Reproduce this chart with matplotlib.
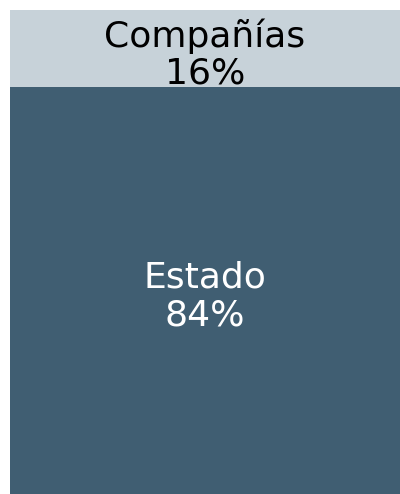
import matplotlib.pyplot as plt

# Datos
categorias = ["Estado", "Compañías"]
valores = [84, 16]
colores = ["#405e72", "#c7d2d9"]
colores_texto = ["white", "black"]

fig = plt.figure(figsize=(4, 4.94), dpi=100)
ax = fig.add_axes([10 / 400, 0, 390 / 400, 484 / 494])

base = 0
for cat, val, col, tcol in zip(categorias, valores, colores, colores_texto):
    ax.bar(0, val, bottom=base, width=1, color=col, edgecolor="none")
    # etiqueta un poco por debajo del centro, como en el original
    ax.text(0, base + val / 2 - 1.2, f"{cat}\n{val}%", ha="center", va="center",
            fontsize=26, color=tcol, linespacing=1.12, family="DejaVu Sans")
    base += val

ax.set_xlim(-0.5, 0.5)
ax.set_ylim(0, 100)
ax.axis("off")

fig.savefig("out.png", dpi=100)
